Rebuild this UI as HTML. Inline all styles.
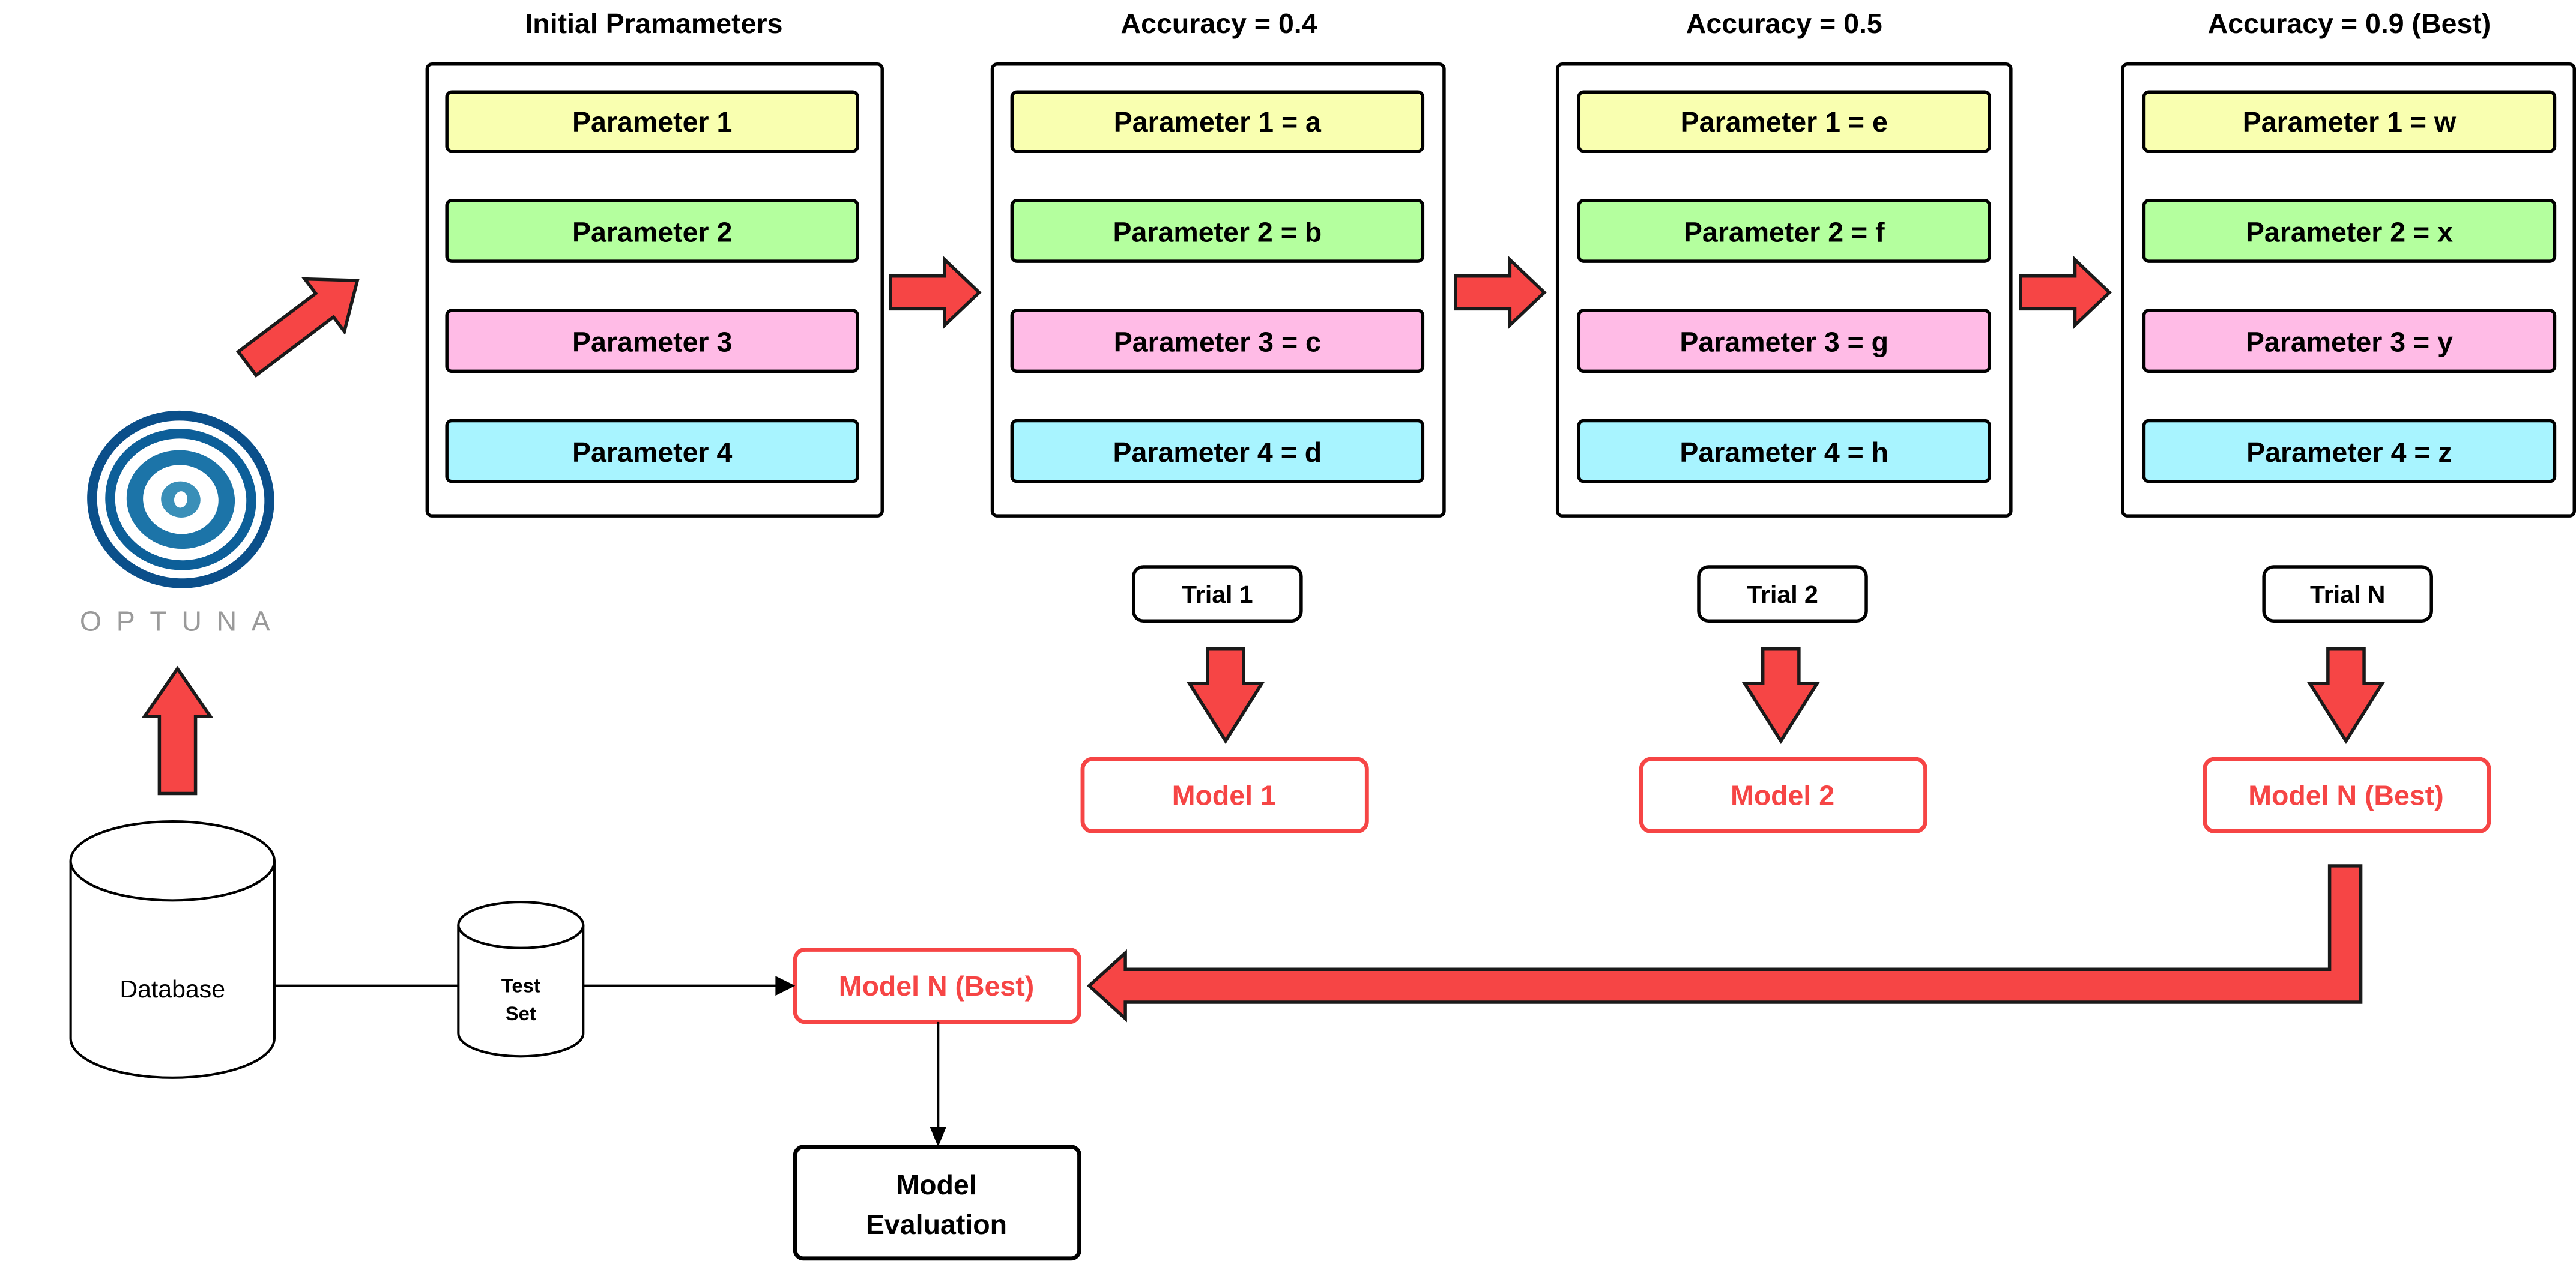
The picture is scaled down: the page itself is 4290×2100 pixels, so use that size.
<!DOCTYPE html>
<html><head><meta charset="utf-8"><style>
html,body{margin:0;padding:0;background:#fff;}
svg{display:block;}
text{font-family:"Liberation Sans",Arial,sans-serif;}
</style></head><body>
<svg width="4290" height="2100" viewBox="0 0 1568 767.5" xmlns="http://www.w3.org/2000/svg">
<rect width="1568" height="767.5" fill="#fff"/>
<g font-weight="bold" font-size="17" text-anchor="middle" fill="#000">
<text x="398" y="20">Initial Pramameters</text>
<text x="742" y="20">Accuracy = 0.4</text>
<text x="1086" y="20">Accuracy = 0.5</text>
<text x="1430" y="20">Accuracy = 0.9 (Best)</text>
</g>
<g fill="#fff" stroke="#000" stroke-width="2">
<rect x="260" y="39" width="277" height="275" rx="3"/>
<rect x="604" y="39" width="275" height="275" rx="3"/>
<rect x="948" y="39" width="276" height="275" rx="3"/>
<rect x="1292" y="39" width="275" height="275" rx="3"/>
</g>
<g stroke="#000" stroke-width="2">
<g id="p1"><rect x="272" y="56" width="250" height="36" rx="3" fill="#f9ffb0"/>
<rect x="272" y="122" width="250" height="37" rx="3" fill="#b4ff9e"/>
<rect x="272" y="189" width="250" height="37" rx="3" fill="#ffbbe6"/>
<rect x="272" y="256" width="250" height="37" rx="3" fill="#a8f4ff"/></g>
<use href="#p1" x="344"/>
<use href="#p1" x="689"/>
<use href="#p1" x="1033"/>
</g>
<g font-weight="bold" font-size="17" text-anchor="middle" fill="#000">
<text x="397" y="80">Parameter 1</text><text x="397" y="147">Parameter 2</text><text x="397" y="214">Parameter 3</text><text x="397" y="281">Parameter 4</text>
<text x="741" y="80">Parameter 1 = a</text><text x="741" y="147">Parameter 2 = b</text><text x="741" y="214">Parameter 3 = c</text><text x="741" y="281">Parameter 4 = d</text>
<text x="1086" y="80">Parameter 1 = e</text><text x="1086" y="147">Parameter 2 = f</text><text x="1086" y="214">Parameter 3 = g</text><text x="1086" y="281">Parameter 4 = h</text>
<text x="1430" y="80">Parameter 1 = w</text><text x="1430" y="147">Parameter 2 = x</text><text x="1430" y="214">Parameter 3 = y</text><text x="1430" y="281">Parameter 4 = z</text>
</g>
<g fill="#f64545" stroke="#1a1a1a" stroke-width="2">
<polygon id="ra" points="542,168 575,168 575,158 596,178 575,198 575,188 542,188"/>
<use href="#ra" x="344"/>
<use href="#ra" x="688"/>
<polygon id="da" points="735,395 757,395 757,416 768,416 746,451 724,416 735,416"/>
<use href="#da" x="338"/>
<use href="#da" x="682"/>
<polygon points="97,483 119,483 119,436 128,436 108,407 88,436 97,436"/>
<polygon transform="translate(184,196) rotate(-37)" points="-42,-9 17,-9 17,-20 42,0 17,20 17,9 -42,9"/>
<polygon points="1418,527 1437,527 1437,610 685,610 685,620 663,600 685,580 685,590 1418,590"/>
</g>
<g fill="#fff" stroke="#000" stroke-width="2">
<rect x="690" y="345" width="102" height="33" rx="6"/>
<rect x="1034" y="345" width="102" height="33" rx="6"/>
<rect x="1378" y="345" width="102" height="33" rx="6"/>
</g>
<g font-weight="bold" font-size="15" text-anchor="middle" fill="#000">
<text x="741" y="367">Trial 1</text><text x="1085" y="367">Trial 2</text><text x="1429" y="367">Trial N</text>
</g>
<g fill="#fff" stroke="#f64545" stroke-width="2.5">
<rect x="659" y="462" width="173" height="44" rx="6"/>
<rect x="999" y="462" width="173" height="44" rx="6"/>
<rect x="1342" y="462" width="173" height="44" rx="6"/>
<rect x="484" y="578" width="173" height="44" rx="6"/>
</g>
<g font-weight="bold" font-size="17" text-anchor="middle" fill="#f64545">
<text x="745" y="490">Model 1</text><text x="1085" y="490">Model 2</text><text x="1428" y="490">Model N (Best)</text><text x="570" y="606">Model N (Best)</text>
</g>
<rect x="484" y="698" width="173" height="68" rx="5" fill="#fff" stroke="#000" stroke-width="2.5"/>
<g font-weight="bold" font-size="17" text-anchor="middle" fill="#000">
<text x="570" y="727">Model</text><text x="570" y="751">Evaluation</text>
</g>
<line x1="571" y1="622" x2="571" y2="688" stroke="#000" stroke-width="1.5"/>
<polygon points="566,686 576,686 571,698" fill="#000"/>
<line x1="167" y1="600" x2="280" y2="600" stroke="#000" stroke-width="1.5"/>
<line x1="355" y1="600" x2="474" y2="600" stroke="#000" stroke-width="1.5"/>
<polygon points="472,594 484,600 472,606" fill="#000"/>
<g fill="#fff" stroke="#000" stroke-width="1.5">
<path d="M43,524 L43,632 A62,24 0 0 0 167,632 L167,524"/>
<ellipse cx="105" cy="524" rx="62" ry="24"/>
<path d="M279,563 L279,629 A38,14 0 0 0 355,629 L355,563"/>
<ellipse cx="317" cy="563" rx="38" ry="14"/>
</g>
<text x="105" y="607" font-size="15" text-anchor="middle" fill="#000">Database</text>
<g font-weight="bold" font-size="12" text-anchor="middle" fill="#000">
<text x="317" y="604">Test</text><text x="317" y="621">Set</text>
</g>
<g transform="translate(110,304) rotate(8)">
<ellipse rx="57" ry="54" fill="#0b4f8a"/>
<ellipse rx="51" ry="48" fill="#fff"/>
<ellipse rx="46" ry="43" fill="#0d5f99"/>
<ellipse rx="40" ry="37" fill="#fff"/>
<ellipse rx="33" ry="30" fill="#1c74a8"/>
<ellipse rx="23" ry="21" fill="#fff"/>
<ellipse rx="12" ry="11" fill="#3a8fb8"/>
<ellipse rx="4" ry="5" fill="#fff"/>
</g>
<text x="111" y="384" font-size="17" text-anchor="middle" fill="#9a9a9a" letter-spacing="9">OPTUNA</text>
</svg>
</body></html>
